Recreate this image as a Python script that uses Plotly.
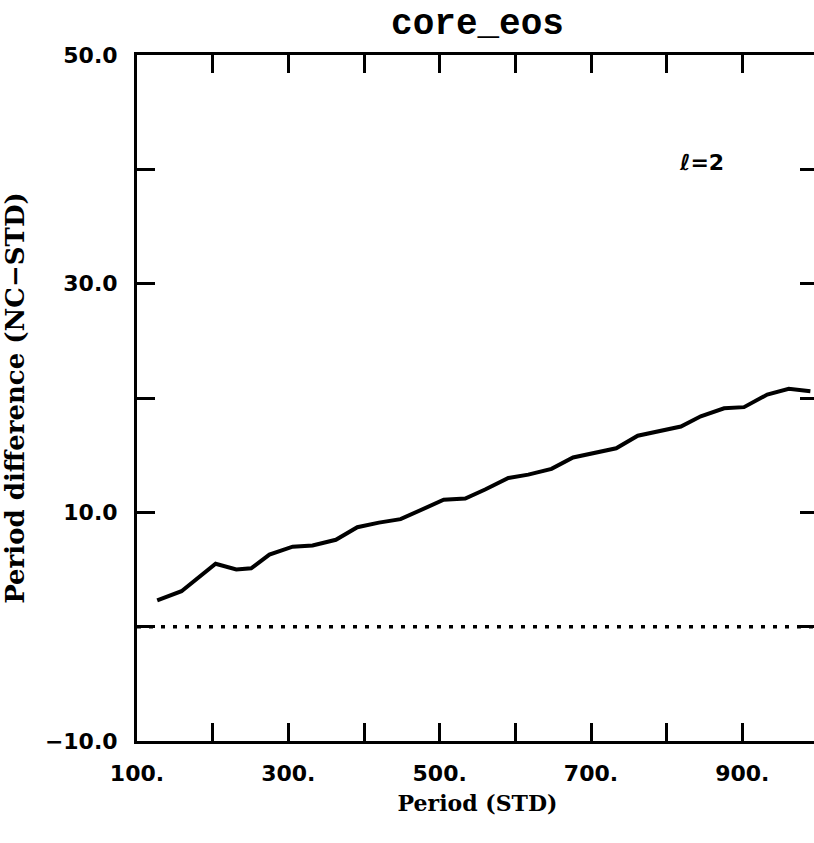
import plotly.graph_objects as go

# Data
period_std = [126.7, 158.8, 203.9, 231.2, 250.9, 275.0, 305.7, 332.0, 362.8, 391.2,
              419.7, 448.3, 505.3, 533.8, 560.1, 590.8, 617.1, 647.8, 676.3, 722.4,
              733.3, 761.8, 818.8, 845.1, 875.9, 902.2, 932.9, 961.4, 989.9]
period_diff = [2.3, 3.1, 5.5, 5.0, 5.1, 6.3, 7.0, 7.1, 7.6, 8.7,
               9.1, 9.4, 11.1, 11.2, 12.0, 13.0, 13.3, 13.8, 14.8, 15.5,
               15.6, 16.7, 17.5, 18.4, 19.1, 19.2, 20.3, 20.8, 20.6]
zero_x = [100, 1000]
zero_y = [0, 0]

x_tickvals = [100, 200, 300, 400, 500, 600, 700, 800, 900, 1000]
x_ticktext = ["100.", "", "300.", "", "500.", "", "700.", "", "900.", ""]
y_tickvals = [-10, 0, 10, 20, 30, 40, 50]
y_ticktext = ["\u221210.0", "", "10.0", "", "30.0", "", "50.0"]

TICK_FONT = dict(family="DejaVu Sans", size=22, color="black", weight="bold")

fig = go.Figure()
fig.add_trace(go.Scatter(x=zero_x, y=zero_y, mode="lines",
                         line=dict(color="black", width=3.5, dash="4px,8px"),
                         showlegend=False, hoverinfo="skip"))
fig.add_trace(go.Scatter(x=period_std, y=period_diff, mode="lines",
                         line=dict(color="black", width=4),
                         showlegend=False))

fig.update_layout(
    width=822, height=843,
    margin=dict(l=137, r=1, t=55, b=102),
    paper_bgcolor="white", plot_bgcolor="white",
    title=dict(text="core_eos", x=0.5, xref="paper", xanchor="center",
               y=1 - 21 / 843, yref="container", yanchor="middle",
               font=dict(family="Liberation Mono", size=36, color="black", weight="bold")),
    xaxis=dict(range=[100, 1000], tickmode="array", tickvals=x_tickvals,
               ticktext=x_ticktext, ticks="inside", ticklen=18, tickwidth=3,
               tickcolor="black", showline=True, linewidth=3, linecolor="black",
               mirror="ticks", showgrid=False, zeroline=False,
               tickfont=TICK_FONT, ticklabelstandoff=11,
               title=dict(text="<b>Period (STD)</b>",
                          font=dict(family="DejaVu Serif", size=22, color="black"),
                          standoff=11)),
    yaxis=dict(range=[-10, 50], tickmode="array", tickvals=y_tickvals,
               ticktext=y_ticktext, ticks="inside", ticklen=18, tickwidth=3,
               tickcolor="black", showline=True, linewidth=3, linecolor="black",
               mirror="ticks", showgrid=False, zeroline=False,
               tickfont=TICK_FONT, ticklabelstandoff=12,
               title=dict(text="<b>Period difference (NC\u2212STD)</b>",
                          font=dict(family="DejaVu Serif", size=26, color="black"),
                          standoff=17)),
    annotations=[dict(x=846, y=40.6, xref="x", yref="y", showarrow=False,
                      text="<b><i>\u2113</i>=2</b>",
                      font=dict(family="DejaVu Sans", size=22, color="black"))],
)

fig.write_html("out.html",
               config={"displayModeBar": False},
               post_script="document.body.style.margin='0px';"
                           "document.body.style.overflow='hidden';")
